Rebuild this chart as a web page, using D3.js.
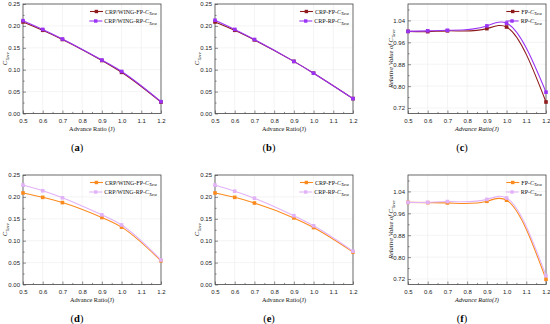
<!DOCTYPE html>
<html>
<head>
<meta charset="utf-8">
<script src="https://cdn.jsdelivr.net/npm/d3@7"></script>
<style>
	body { margin: 0; background: #fff; }
	svg { display: block; font-family: "Liberation Serif", "Times New Roman", serif; }
	.tick text { font-size: 6px; fill: #222; }
</style>
</head>
<body>
<svg id="chart" width="550" height="324"></svg>
<script>
// advance ratio J where the runs were made
const ratio = [0.5, 0.6, 0.7, 0.9, 1.0, 1.2];
const xTicks = [0.5, 0.6, 0.7, 0.8, 0.9, 1.0, 1.1, 1.2];
const ctTicks = [0, 0.05, 0.10, 0.15, 0.20, 0.25];
const relTicks = [0.72, 0.80, 0.88, 0.96, 1.04];
const panelLabels = ["a", "b", "c", "d", "e", "f"];

// (a) CRP/WING, top row
const wingFpA = [0.209, 0.190, 0.169, 0.121, 0.094, 0.026];
const wingRpA = [0.212, 0.192, 0.170, 0.122, 0.096, 0.027];
// (b) CRP alone
const crpFpB = [0.209, 0.190, 0.168, 0.119, 0.092, 0.034];
const crpRpB = [0.213, 0.192, 0.169, 0.119, 0.092, 0.034];
// (c) relative values
const relFpC = [1.000, 0.999, 1.002, 1.010, 1.016, 0.742];
const relRpC = [1.000, 1.002, 1.004, 1.020, 1.030, 0.778];
// (d) CRP/WING, bottom row
const wingFpD = [0.209, 0.199, 0.187, 0.153, 0.131, 0.054];
const wingRpD = [0.227, 0.214, 0.198, 0.159, 0.136, 0.056];
// (e) CRP alone
const crpFpE = [0.209, 0.199, 0.186, 0.152, 0.130, 0.074];
const crpRpE = [0.227, 0.213, 0.197, 0.157, 0.134, 0.076];
// (f) relative values
const relFpF = [1.000, 0.999, 0.998, 1.004, 1.008, 0.719];
const relRpF = [1.000, 1.000, 1.003, 1.011, 1.016, 0.732];

const colsX = [23, 215, 408],
			rowsY = [4, 175],
			pw = 138,
			ph = 109.5;

const topColors = ["#8e1b1b", "#9a33f5"],
			botColors = ["#fb8a1e", "#e2b2f7"];

const panels = [
	{ prefix: "CRP/WING-", series: [wingFpA, wingRpA], rel: false, colors: topColors, title: "Advance Ratio (J)" },
	{ prefix: "CRP-", series: [crpFpB, crpRpB], rel: false, colors: topColors, title: "Advance Ratio(J)" },
	{ prefix: "", series: [relFpC, relRpC], rel: true, colors: topColors, title: "Advance Ratio(J)" },
	{ prefix: "CRP/WING-", series: [wingFpD, wingRpD], rel: false, colors: botColors, title: "Advance Ratio(J)" },
	{ prefix: "CRP-", series: [crpFpE, crpRpE], rel: false, colors: botColors, title: "Advance Ratio(J)" },
	{ prefix: "", series: [relFpF, relRpF], rel: true, colors: botColors, title: "Advance Ratio(J)" }
];

const svg = d3.select("#chart");

// writes "C" with the italic subscript "Tave"
function ctave(text, size) {
	text.append("tspan").attr("font-style", "italic").text("C");
	text.append("tspan").attr("font-style", "italic").attr("font-size", size * 0.72).attr("dy", size * 0.25).text("Tave");
}

// natural cubic spline y(x) through the points, written as bezier segments
function splinePath(px, py) {
	const n = px.length - 1,
				h = d3.range(n).map(i => px[i + 1] - px[i]),
				m = new Array(n + 1).fill(0);
	// tridiagonal solve for second derivatives, ends left at zero
	const a = [], b = [], c = [], r = [];
	for(let i = 1; i < n; i++) {
		a.push(h[i - 1]); b.push(2 * (h[i - 1] + h[i])); c.push(h[i]);
		r.push(6 * ((py[i + 1] - py[i]) / h[i] - (py[i] - py[i - 1]) / h[i - 1]));
	}
	const k = r.length;
	for(let i = 1; i < k; i++) {
		const w = a[i] / b[i - 1];
		b[i] -= w * c[i - 1];
		r[i] -= w * r[i - 1];
	}
	const sol = new Array(k);
	for(let i = k - 1; i >= 0; i--) sol[i] = (r[i] - (i < k - 1 ? c[i] * sol[i + 1] : 0)) / b[i];
	sol.forEach((v, i) => m[i + 1] = v);

	const path = d3.path();
	path.moveTo(px[0], py[0]);
	for(let i = 0; i < n; i++) {
		const s = (py[i + 1] - py[i]) / h[i],
					d0 = s - h[i] * (2 * m[i] + m[i + 1]) / 6,
					d1 = s + h[i] * (m[i] + 2 * m[i + 1]) / 6;
		path.bezierCurveTo(px[i] + h[i] / 3, py[i] + d0 * h[i] / 3,
			px[i + 1] - h[i] / 3, py[i + 1] - d1 * h[i] / 3,
			px[i + 1], py[i + 1]);
	}
	return path.toString();
}

function drawPanel(p, i) {
	const col = i % 3, row = Math.floor(i / 3),
				x0 = colsX[col], y0 = rowsY[row];
	const g = svg.append("g").attr("transform", "translate(" + x0 + "," + y0 + ")");

	const x = d3.scaleLinear().domain([0.5, 1.2]).range([0, pw]);
	const y = d3.scaleLinear().domain(p.rel ? [0.70, 1.10] : [0, 0.25]).range([ph, 0]);
	const yTicks = p.rel ? relTicks : ctTicks;

	// faint grid
	g.append("g").selectAll("line").data(xTicks.slice(1, -1)).join("line")
		.attr("x1", d => x(d)).attr("x2", d => x(d)).attr("y1", 0).attr("y2", ph)
		.attr("stroke", "#ececec").attr("stroke-width", 0.6);
	g.append("g").selectAll("line").data(yTicks.filter(d => y(d) > 1 && y(d) < ph - 1)).join("line")
		.attr("x1", 0).attr("x2", pw).attr("y1", d => y(d)).attr("y2", d => y(d))
		.attr("stroke", "#ececec").attr("stroke-width", 0.6);

	// axes, ticks pointing in
	g.append("g").attr("transform", "translate(0," + ph + ")")
		.call(d3.axisBottom(x).tickValues(xTicks).tickSize(-3).tickPadding(5).tickFormat(d3.format(".1f")));
	g.append("g").attr("transform", "translate(0," + ph + ")")
		.call(d3.axisBottom(x).tickValues(xTicks.slice(0, -1).map(d => d + 0.05)).tickSize(-1.6).tickFormat(""));
	g.append("g")
		.call(d3.axisLeft(y).tickValues(yTicks).tickSize(-3).tickPadding(3).tickFormat(d3.format(".2f")));
	const minorY = p.rel ? relTicks.map(d => d + 0.04).filter(d => d < 1.1) : ctTicks.slice(0, -1).map(d => d + 0.025);
	g.append("g").call(d3.axisLeft(y).tickValues(minorY).tickSize(-1.6).tickFormat(""));
	g.selectAll(".domain").remove();
	g.selectAll(".tick line").attr("stroke", "#444").attr("stroke-width", 0.6);

	g.append("rect").attr("width", pw).attr("height", ph)
		.attr("fill", "none").attr("stroke", "#444").attr("stroke-width", 0.8);

	// series
	p.series.forEach((vals, s) => {
		g.append("path").attr("d", splinePath(ratio.map(x), vals.map(y)))
			.attr("fill", "none").attr("stroke", p.colors[s]).attr("stroke-width", 1.1);
		g.append("g").selectAll("rect").data(vals).join("rect")
			.attr("x", (d, k) => x(ratio[k]) - 1.8).attr("y", d => y(d) - 1.8)
			.attr("width", 3.6).attr("height", 3.6).attr("fill", p.colors[s]);
	});

	// legend, right aligned in the top corner
	["FP", "RP"].forEach((name, s) => {
		const ly = 7.5 + s * 9.5;
		const t = g.append("text").attr("y", ly + 2).attr("font-size", 6).attr("fill", "#111");
		t.append("tspan").text(p.prefix + name + "-");
		ctave(t, 6);
		const w = t.node().getComputedTextLength();
		const tx = pw - 4 - w;
		t.attr("x", tx);
		g.append("line").attr("x1", tx - 15).attr("x2", tx - 2).attr("y1", ly).attr("y2", ly)
			.attr("stroke", p.colors[s]).attr("stroke-width", 1.1);
		g.append("rect").attr("x", tx - 10.3).attr("y", ly - 1.7).attr("width", 3.4).attr("height", 3.4)
			.attr("fill", p.colors[s]);
	});

	// axis titles
	const xt = g.append("text").attr("x", pw / 2).attr("y", ph + 17).attr("text-anchor", "middle")
		.attr("font-size", 6.3).attr("fill", "#111");
	if(p.rel) xt.attr("font-style", "italic");
	xt.text(p.title);

	const yt = g.append("text").attr("transform", "translate(" + (p.rel ? -15 : -16) + "," + (ph / 2) + ") rotate(-90)")
		.attr("text-anchor", "middle").attr("font-size", 6.5).attr("fill", "#111");
	if(p.rel) {
		yt.append("tspan").attr("font-style", "italic").text("Relative Value of ");
	}
	ctave(yt, 6.5);

	// panel letter
	const lt = svg.append("text").attr("x", x0 + 54).attr("y", y0 + ph + 37)
		.attr("text-anchor", "middle").attr("font-size", 10.5).attr("fill", "#000");
	lt.append("tspan").text("(");
	lt.append("tspan").attr("font-weight", "bold").text(panelLabels[i]);
	lt.append("tspan").text(")");
}

panels.forEach(drawPanel);
</script>
</body>
</html>
